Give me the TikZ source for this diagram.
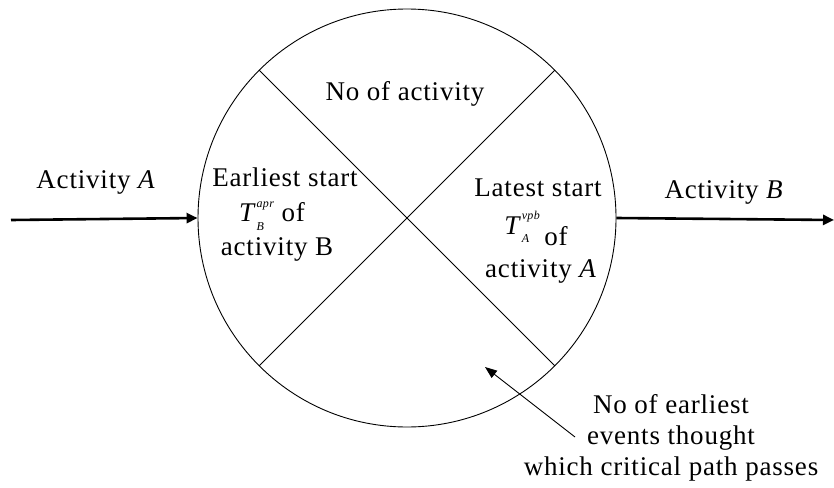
\documentclass[tikz,border=0pt]{standalone}
\usepackage{fontspec}
\setmainfont{Liberation Serif}[LetterSpace=3]
\usetikzlibrary{arrows.meta}
\newcommand{\subsup}[2]{\rlap{\raisebox{-0.32em}{\fontsize{12}{12}\selectfont\itshape #1}}\raisebox{0.55em}{\fontsize{12}{12}\selectfont\itshape #2}}
\tikzset{
  lbl/.style={inner sep=0pt, font=\fontsize{27}{31}\selectfont, text=black},
  flow/.style={line width=2.6pt, -{Triangle[length=11pt,width=10pt]}},
  thin/.style={line width=0.9pt},
}
\begin{document}
\begin{tikzpicture}[x=1pt,y=-1pt]
\useasboundingbox (0,0) rectangle (834,487);
\node[circle, draw, thin, minimum size=418pt, inner sep=0pt] (c) at (407,218) {};
\draw[thin] (c.135) -- (c.-45);
\draw[thin] (c.45) -- (c.-135);
\coordinate (ls) at (11,220);
\coordinate (re) at (834,220);
\draw[flow] (ls) -- (c.west);
\draw[flow] (c.east) -- (re);
\node[lbl] (actA) at (96,182) {Activity \textit{A}};
\node[lbl] (actB) at (724,192) {Activity \textit{B}};
\node[lbl] (noact) at (405,94) {No of activity};
\node[lbl] (es1) at (285,177) {Earliest start};
\node[lbl] (es2) at (272,216) {\textit{T}\subsup{B}{apr} of};
\node[lbl] (es3) at (277,249) {activity B};
\node[lbl] (ls1) at (538,188) {Latest start};
\node[lbl, anchor=base] (ls2) at (536,245) {\raisebox{0.4em}{\textit{T}\subsup{A}{vpb}}\,of};
\node[lbl] (ls3) at (541,271) {activity \textit{A}};
\node[lbl, align=center] (note) at (671,438) {No of earliest\\events thought\\which critical path passes};
\coordinate (nt) at (575,437);
\draw[thin, -{Triangle[length=12pt,width=9pt]}] (nt) -- (485,367);
\end{tikzpicture}
\end{document}
